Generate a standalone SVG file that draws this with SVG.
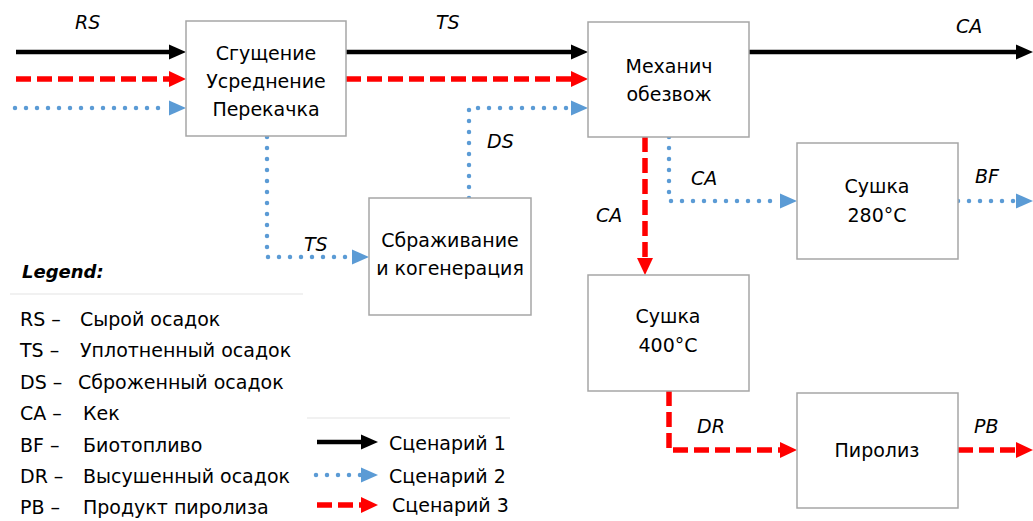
<svg xmlns="http://www.w3.org/2000/svg" width="1033" height="521" viewBox="0 0 1033 521">
<style>
.box{fill:#fff;stroke:#a6a6a6;stroke-width:1.5}
.nt{font-family:"DejaVu Sans",sans-serif;font-size:19px;fill:#000;text-anchor:middle}
.lb{font-family:"DejaVu Sans",sans-serif;font-size:19px;font-style:italic;fill:#000}
.lg{font-family:"DejaVu Sans",sans-serif;font-size:19px;fill:#000}
.s1{fill:none;stroke:#000;stroke-width:4.5}
.s2{fill:none;stroke:#5b9bd5;stroke-width:4.5;stroke-linecap:round;stroke-dasharray:0 11}
.s3{fill:none;stroke:#ff0000;stroke-width:5.5;stroke-dasharray:15 6}
.sep{stroke:#ececec;stroke-width:1.5}
</style>
<defs>
<marker id="a1" markerUnits="userSpaceOnUse" orient="auto" overflow="visible" markerWidth="1" markerHeight="1"><path d="M0,-7.5 L17,0 L0,7.5 z" fill="#000"/></marker>
<marker id="a2" markerUnits="userSpaceOnUse" orient="auto" overflow="visible" markerWidth="1" markerHeight="1"><path d="M0,-7.5 L17,0 L0,7.5 z" fill="#5b9bd5"/></marker>
<marker id="a3" markerUnits="userSpaceOnUse" orient="auto" overflow="visible" markerWidth="1" markerHeight="1"><path d="M0,-8 L17,0 L0,8 z" fill="#ff0000"/></marker>
</defs>
<rect width="1033" height="521" fill="#fff"/>

<g id="connectors">
<path class="s1" d="M16,52 H169" marker-end="url(#a1)"/>
<path class="s3" d="M16,79 H169" marker-end="url(#a3)"/>
<path class="s2" d="M15,108 H169" marker-end="url(#a2)"/>
<path class="s1" d="M346,52 H571" marker-end="url(#a1)"/>
<path class="s3" d="M346,79 H571" marker-end="url(#a3)"/>
<path class="s2" d="M469,198 V108 H571" marker-end="url(#a2)"/>
<path class="s1" d="M749,52 H1016" marker-end="url(#a1)"/>
<path class="s3" d="M645,137 V258" marker-end="url(#a3)"/>
<path class="s2" d="M669,137 V201 H780" marker-end="url(#a2)"/>
<path class="s2" d="M958,201 H1016" marker-end="url(#a2)"/>
<path class="s2" d="M267,137 V257 H352" marker-end="url(#a2)"/>
<path class="s3" d="M669,391 V450 H780" marker-end="url(#a3)"/>
<path class="s3" d="M958,450 H1016" marker-end="url(#a3)"/>
<text class="lb" x="75" y="29">RS</text>
<text class="lb" x="436" y="29">TS</text>
<text class="lb" x="487" y="148">DS</text>
<text class="lb" x="956" y="33">CA</text>
<text class="lb" x="691" y="185">CA</text>
<text class="lb" x="596" y="222">CA</text>
<text class="lb" x="975" y="183">BF</text>
<text class="lb" x="304" y="251">TS</text>
<text class="lb" x="697" y="433">DR</text>
<text class="lb" x="974" y="433">PB</text>
</g>

<g id="n-sgushchenie">
<rect class="box" x="186" y="21" width="160" height="115"/>
<text class="nt" x="266" y="60">Сгущение</text>
<text class="nt" x="266" y="88">Усреднение</text>
<text class="nt" x="266" y="116">Перекачка</text>
</g>
<g id="n-mekhanich">
<rect class="box" x="588" y="22" width="161" height="115"/>
<text class="nt" x="669" y="73">Механич</text>
<text class="nt" x="669" y="101">обезвож</text>
</g>
<g id="n-sushka280">
<rect class="box" x="797" y="143" width="161" height="116"/>
<text class="nt" x="877" y="193">Сушка</text>
<text class="nt" x="877" y="222">280°C</text>
</g>
<g id="n-sbrazhivanie">
<rect class="box" x="369" y="198" width="162" height="117"/>
<text class="nt" x="450" y="247">Сбраживание</text>
<text class="nt" x="450" y="275">и когенерация</text>
</g>
<g id="n-sushka400">
<rect class="box" x="588" y="275" width="161" height="116"/>
<text class="nt" x="668" y="323">Сушка</text>
<text class="nt" x="668" y="352">400°C</text>
</g>
<g id="n-piroliz">
<rect class="box" x="797" y="393" width="161" height="115"/>
<text class="nt" x="877" y="457">Пиролиз</text>
</g>

<g id="legend">
<text x="22" y="278" font-family="DejaVu Sans, sans-serif" font-size="18" font-weight="bold" font-style="italic">Legend:</text>
<line class="sep" x1="10" y1="294" x2="303" y2="294"/>
<line class="sep" x1="307" y1="418" x2="510" y2="418"/>
<text class="lg" x="20" y="326">RS –</text><text class="lg" x="80" y="326">Сырой осадок</text>
<text class="lg" x="20" y="357">TS –</text><text class="lg" x="80" y="357">Уплотненный осадок</text>
<text class="lg" x="20" y="389">DS –</text><text class="lg" x="78" y="389">Сброженный осадок</text>
<text class="lg" x="20" y="420">CA –</text><text class="lg" x="83" y="420">Кек</text>
<text class="lg" x="20" y="452">BF –</text><text class="lg" x="83" y="452">Биотопливо</text>
<text class="lg" x="20" y="483">DR –</text><text class="lg" x="83" y="483">Высушенный осадок</text>
<text class="lg" x="20" y="514">PB –</text><text class="lg" x="83" y="514">Продукт пиролиза</text>
<path class="s1" d="M317,442 H361" marker-end="url(#a1)"/>
<path class="s2" d="M316,475 H361" marker-end="url(#a2)"/>
<path class="s3" d="M317,505 H361" marker-end="url(#a3)"/>
<text class="lg" x="389" y="450">Сценарий 1</text>
<text class="lg" x="389" y="483">Сценарий 2</text>
<text class="lg" x="392" y="512">Сценарий 3</text>
</g>
</svg>
